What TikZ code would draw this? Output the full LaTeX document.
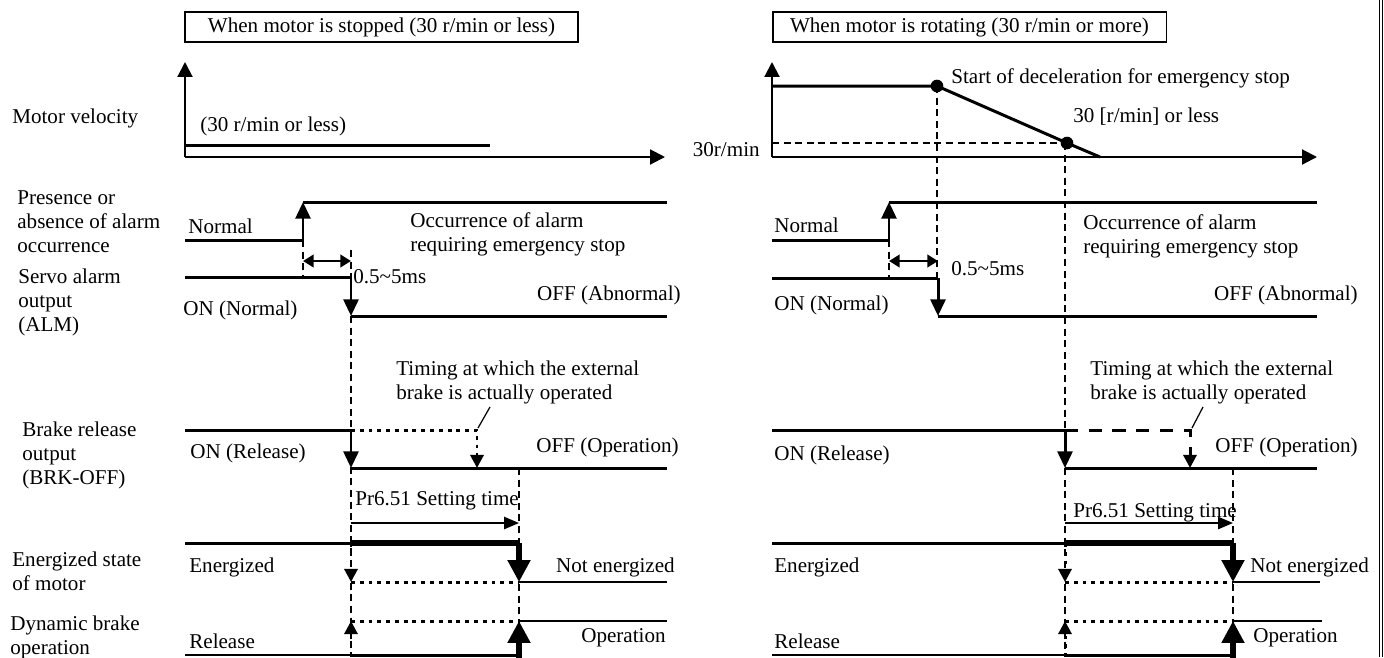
\documentclass[tikz,border=0pt]{standalone}
\usepackage{fontspec}
\setmainfont{Liberation Serif}
\usetikzlibrary{arrows.meta}

\begin{document}
\begin{tikzpicture}[x=0.02cm, y=-0.02cm,
        every node/.style={font=\fontsize{12}{13.6}\selectfont, inner sep=0pt},
        lbl/.style={anchor=base west, align=left},
        rlbl/.style={anchor=base east},
        headbox/.style={rectangle, draw=black, line width=1.1pt, minimum width=7.88cm, minimum height=0.6cm},
        axis/.style={line width=1.2pt, -{Triangle[length=8.5pt, width=8.5pt]}},
        sig/.style={line width=1.7pt},
        mid/.style={line width=1.3pt},
        heavy/.style={line width=2.9pt},
        edge/.style={line width=1.7pt, -{Triangle[length=9.5pt, width=8.5pt]}},
        bigedge/.style={line width=2.9pt, -{Triangle[length=12.5pt, width=12.5pt]}},
        span/.style={line width=1.5pt, {Triangle[length=6pt, width=7pt]}-{Triangle[length=6pt, width=7pt]}},
        setarrow/.style={line width=0.9pt, -{Triangle[length=8.5pt, width=7pt]}},
        guide/.style={line width=0.8pt, dash pattern=on 4pt off 2.6pt},
        dotline/.style={line width=1.7pt, dash pattern=on 2.2pt off 2.8pt},
        dotarrow/.style={dotline, -{Triangle[length=7.5pt, width=7.5pt]}},
        longdash/.style={line width=1.7pt, dash pattern=on 7.5pt off 6pt, -{Triangle[length=7.5pt, width=7.5pt]}},
        leader/.style={line width=0.7pt}
    ]
    \useasboundingbox (0,0) rectangle (1384,657);

    % Headings
    \node[headbox] (hdstop) at (381.5,27) {When motor is stopped (30 r/min or less)};
    \node[headbox] (hdrot) at (969.5,27) {When motor is rotating (30 r/min or more)};

    % Signal names (base = last line)
    \node[lbl] (nvelo) at (12,123) {Motor velocity};
    \node[lbl] (npres) at (17,252) {Presence or\\absence of alarm\\occurrence};
    \node[lbl] (nalm) at (18,331) {Servo alarm\\output\\(ALM)};
    \node[lbl] (nbrk) at (22,484) {Brake release\\output\\(BRK-OFF)};
    \node[lbl] (nenrg) at (12,590) {Energized state\\of motor};
    \node[lbl] (ndyn) at (10,654) {Dynamic brake\\operation};

    % ---------- Stopped ----------
    % Motor velocity
    \draw[axis] (185,157) -- (185,62);
    \draw[axis] (185,157) -- (665,157);
    \draw[sig] (185,145) -- (490,145);
    \node[lbl] (slow) at (200,131) {(30 r/min or less)};

    % Alarm occurrence
    \draw[sig] (185,240) -- (303,240);
    \draw[edge] (303,240) -- (303,202);
    \draw[sig] (303,202) -- (667,202);
    \node[lbl] (snorm) at (188,233) {Normal};
    \node[lbl] (socc) at (410,251) {Occurrence of alarm\\requiring emergency stop};

    % Guides
    \draw[guide] (303,240) -- (303,277);
    \draw[guide] (351,250) -- (351,277);
    \draw[guide] (351,316) -- (351,655);
    \draw[guide] (519,468) -- (519,655);
    \draw[span] (303,261) -- (351,261);
    \node[lbl] (sdelay) at (353,283) {0.5\textasciitilde 5ms};

    % ALM
    \draw[sig] (185,277) -- (351,277);
    \draw[edge] (351,277) -- (351,316);
    \draw[sig] (351,316) -- (667,316);
    \node[lbl] (salmon) at (183,315) {ON (Normal)};
    \node[rlbl] (salmoff) at (681,300) {OFF (Abnormal)};

    % Brake release output
    \node[lbl] (stiming) at (396,399) {Timing at which the external\\brake is actually operated};
    \draw[leader] (490,407) -- (478,428);
    \draw[sig] (185,430) -- (351,430);
    \draw[edge] (351,430) -- (351,468);
    \draw[sig] (351,468) -- (667,468);
    \draw[dotarrow] (351,430) -- (477,430) -- (477,468);
    \node[lbl] (sbrkon) at (190,458) {ON (Release)};
    \node[rlbl] (sbrkoff) at (679,452) {OFF (Operation)};

    % Setting time
    \node[lbl] (sset) at (355,505) {Pr6.51 Setting time};
    \draw[setarrow] (351,523) -- (519,523);

    % Energized state
    \draw[sig] (185,543) -- (351,543);
    \draw[heavy] (351,543) -- (519,543);
    \draw[bigedge] (519,543) -- (519,582);
    \draw[mid] (519,582) -- (667,582);
    \draw[dotarrow] (351,543) -- (351,582);
    \draw[dotline] (351,582) -- (519,582);
    \node[lbl] (senrg) at (189,572) {Energized};
    \node[rlbl] (snoen) at (675,572) {Not energized};

    % Dynamic brake
    \draw[mid] (185,655) -- (351,655);
    \draw[sig] (351,655) -- (519,655);
    \draw[bigedge] (519,658) -- (519,621);
    \draw[mid] (519,621) -- (667,621);
    \draw[dotarrow] (351,657) -- (351,621);
    \draw[dotline] (351,621) -- (519,621);
    \node[lbl] (srel) at (189,648) {Release};
    \node[rlbl] (soper) at (666,642) {Operation};

    % ---------- Rotating ----------
    % Motor velocity
    \draw[axis] (772,157) -- (772,62);
    \draw[axis] (772,157) -- (1317,157);
    \draw[guide] (772,143) -- (1067,143);
    \draw[sig] (772,86) -- (937,86) -- (1067,143) -- (1100,157);
    \fill (937,86) circle[radius=3.6pt];
    \fill (1067,143) circle[radius=3.6pt];
    \node[rlbl] (rthr) at (760,156) {30r/min};
    \node[lbl] (rdec) at (951,83) {Start of deceleration for emergency stop};
    \node[lbl] (rless) at (1073,122) {30 [r/min] or less};

    % Alarm occurrence
    \draw[sig] (772,240) -- (889,240);
    \draw[edge] (889,240) -- (889,202);
    \draw[sig] (889,202) -- (1317,202);
    \node[lbl] (rnorm) at (774,232) {Normal};
    \node[lbl] (rocc) at (1083,253) {Occurrence of alarm\\requiring emergency stop};

    % Guides
    \draw[guide] (889,240) -- (889,278);
    \draw[guide] (937,86) -- (937,278);
    \draw[guide] (1065,143) -- (1065,430);
    \draw[guide] (1065,468) -- (1065,655);
    \draw[guide] (1233,468) -- (1233,655);
    \draw[span] (889,261) -- (938,261);
    \node[lbl] (rdelay) at (951,275) {0.5\textasciitilde 5ms};

    % ALM
    \draw[sig] (772,278) -- (938,278);
    \draw[edge] (938,278) -- (938,316);
    \draw[sig] (938,316) -- (1317,316);
    \node[lbl] (ralmon) at (774,310) {ON (Normal)};
    \node[rlbl] (ralmoff) at (1358,300) {OFF (Abnormal)};

    % Brake release output
    \node[lbl] (rtiming) at (1090,399) {Timing at which the external\\brake is actually operated};
    \draw[leader] (1203,407) -- (1192,428);
    \draw[sig] (772,430) -- (1065,430);
    \draw[edge] (1065,430) -- (1065,468);
    \draw[sig] (1065,468) -- (1317,468);
    \draw[longdash] (1065,430) -- (1190,430) -- (1190,468);
    \node[lbl] (rbrkon) at (774,460) {ON (Release)};
    \node[rlbl] (rbrkoff) at (1358,452) {OFF (Operation)};

    % Setting time
    \node[lbl] (rset) at (1073,517) {Pr6.51 Setting time};
    \draw[setarrow] (1065,523) -- (1233,523);

    % Energized state
    \draw[sig] (772,543) -- (1065,543);
    \draw[heavy] (1065,543) -- (1233,543);
    \draw[bigedge] (1233,543) -- (1233,582);
    \draw[mid] (1233,582) -- (1320,582);
    \draw[dotarrow] (1065,543) -- (1065,582);
    \draw[dotline] (1065,582) -- (1233,582);
    \node[lbl] (renrg) at (774,572) {Energized};
    \node[lbl] (rnoen) at (1250,572) {Not energized};

    % Dynamic brake
    \draw[mid] (772,655) -- (1065,655);
    \draw[sig] (1065,655) -- (1233,655);
    \draw[bigedge] (1233,658) -- (1233,621);
    \draw[mid] (1233,621) -- (1322,621);
    \draw[dotarrow] (1065,657) -- (1065,621);
    \draw[dotline] (1065,621) -- (1233,621);
    \node[lbl] (rrel) at (774,648) {Release};
    \node[lbl] (roper) at (1253,642) {Operation};

    % Right frame
    \draw[line width=0.6pt] (1379.5,0) -- (1379.5,657);
    \draw[line width=0.6pt] (1382.5,0) -- (1382.5,657);

\end{tikzpicture}
\end{document}
